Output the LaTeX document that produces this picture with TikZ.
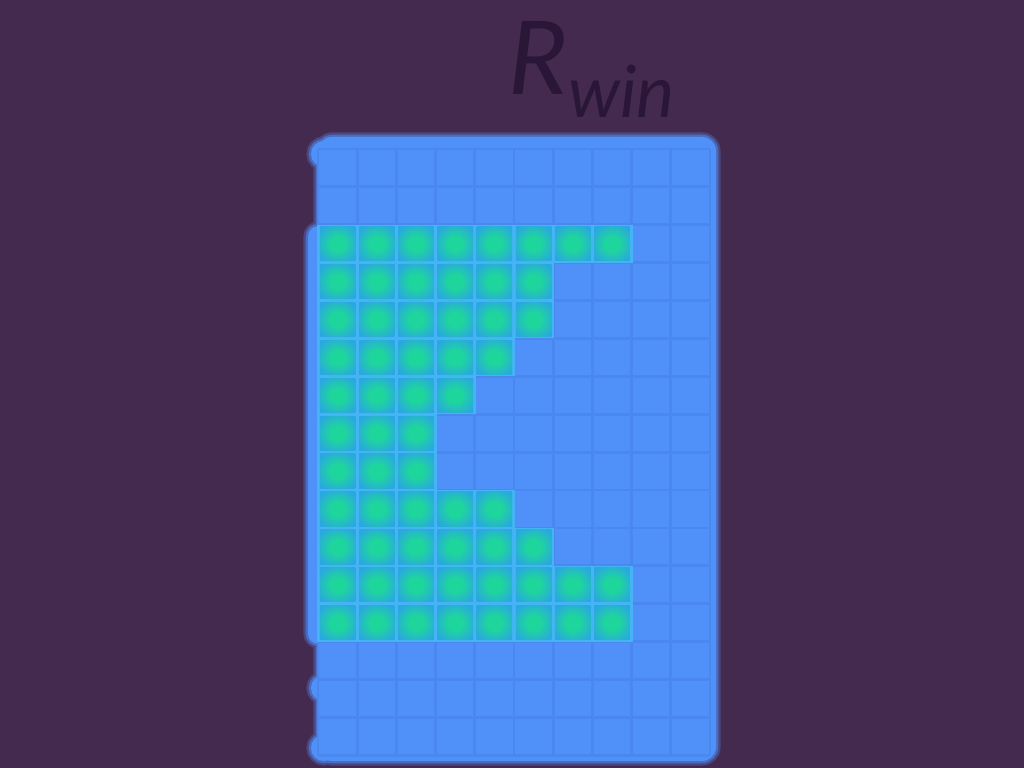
\documentclass[tikz,border=0pt]{standalone}
\usepackage{fontspec}
\setmainfont{Lato}
\usepackage{xcolor}
\usepackage{tikz}
\usetikzlibrary{calc}
\definecolor{WinBack}{HTML}{452A50}
\definecolor{WinBlue}{HTML}{5091F9}
\definecolor{WinLine}{HTML}{4A87EE}
\definecolor{WinCyan}{HTML}{45B4F4}
\definecolor{WinTeal}{HTML}{2AA6E2}
\definecolor{WinGreen}{HTML}{1ED69C}
\definecolor{WinInk}{HTML}{2A1738}
\pgfdeclareradialshading{winglow}{\pgfpoint{0bp}{0bp}}{color(0bp)=(WinGreen); color(10bp)=(WinGreen); color(32bp)=(WinTeal); color(50bp)=(WinTeal)}

\begin{document}
\begin{tikzpicture}[x=0.01cm,y=-0.01cm,
  haloout/.style={fill=WinBlue!30!WinBack,draw=WinBlue!30!WinBack,line width=2.6pt},
  haloin/.style={fill=WinBlue!65!WinBack,draw=WinBlue!65!WinBack,line width=1.3pt},
  body/.style={fill=WinBlue},
  gridline/.style={draw=WinLine,line width=0.8pt},
  cellbed/.style={fill=WinCyan},
  cellglow/.style={shade,shading=winglow}]
\fill[WinBack] (0,0) rectangle (1024,768);
\useasboundingbox (0,0) rectangle (1024,768);
% window body, left edge is a bit ragged
\foreach \look in {haloout,haloin,body} {
  \path[\look,rounded corners=4pt] (318,137) -- (716,137) -- (716,761) -- (318,761) -- cycle;
  \path[\look,rounded corners=3pt] (308,226) rectangle (334,644);
  \foreach \y in {154,688,748} \path[\look] (324,\y) circle[radius=13];
}
% grid
\foreach \k in {0,...,10} \draw[gridline] ({318+39.2*\k},149) -- ({318+39.2*\k},756);
\foreach \r in {0,...,16} \draw[gridline] (318,{149+37.9*\r}) -- (710,{149+37.9*\r});
% green cells, row/count
\foreach \r/\n in {2/8,3/6,4/6,5/5,6/4,7/3,8/3,9/5,10/6,11/8,12/8} {
  \fill[cellbed] (317,{149+37.9*\r}) rectangle ({319+39.2*\n},{149+37.9*(\r+1)});
  \foreach \c in {1,...,\n}
    \shade[cellglow] ({318+39.2*(\c-1)+1.8},{149+37.9*\r+1.8}) rectangle ({318+39.2*\c-1.8},{149+37.9*(\r+1)-1.8});
}
\node[text=WinInk,anchor=base west,inner sep=0] (rwin) at (508,95)
  {\fontsize{29pt}{30pt}\selectfont\itshape R\raisebox{-6.3pt}{\fontsize{20.5pt}{21pt}\selectfont win}};
\end{tikzpicture}
\end{document}
